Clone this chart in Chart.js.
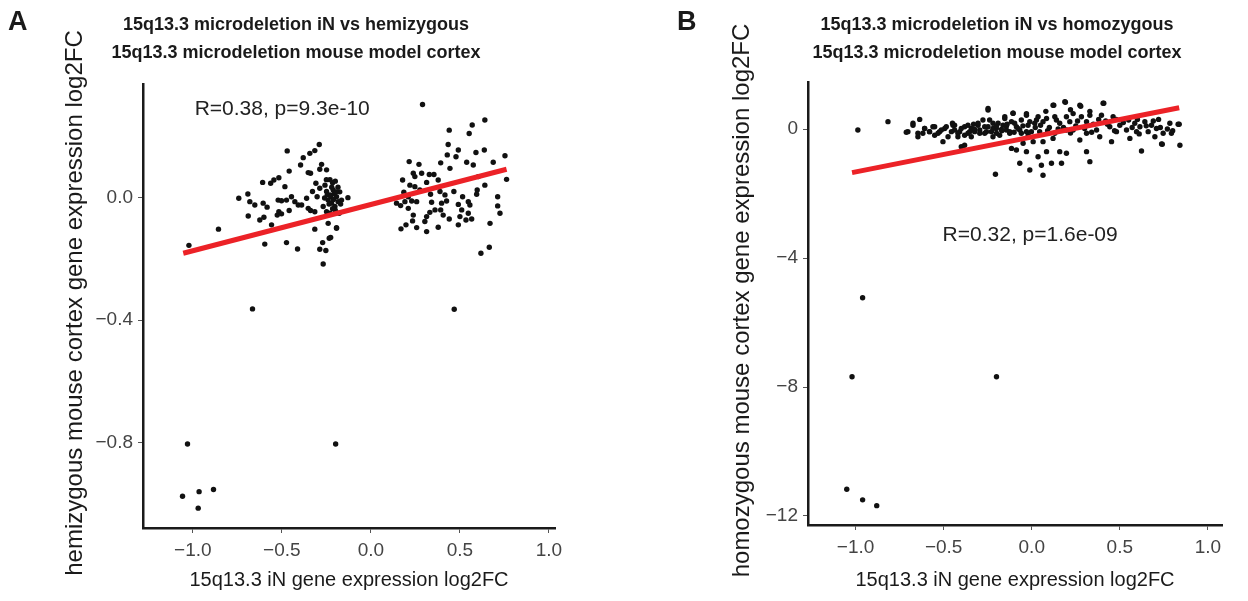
<!DOCTYPE html>
<html>
<head>
<meta charset="utf-8">
<script src="https://cdn.jsdelivr.net/npm/chart.js@4/dist/chart.umd.min.js"></script>
<style>
  html, body { margin: 0; padding: 0; background: #fff; }
  #wrap { position: relative; width: 1248px; height: 601px; }
  .panel { position: absolute; top: 0; width: 624px; height: 601px; }
</style>
</head>
<body>
<div id="wrap">
  <div class="panel" style="left:0"><canvas id="chartA" width="624" height="601"></canvas></div>
  <div class="panel" style="left:624px"><canvas id="chartB" width="624" height="601"></canvas></div>
</div>
<script>
// shared x axis
const xTicks = [-1, -0.5, 0, 0.5, 1];
const xTickLabels = ["\u22121.0", "\u22120.5", "0.0", "0.5", "1.0"];

// panel A: iN vs hemizygous
const yTicksA = [-0.8, -0.4, 0];
const yTickLabelsA = ["\u22120.8", "\u22120.4", "0.0"];
const fitAX = [-1.054, 0.762];
const fitAY = [-0.181, 0.094];
const hemiPoints = [
  [-0.665,-0.363],[0.468,-0.364],[-1.03,-0.805],[-0.198,-0.805],[-1.058,-0.976],[-0.965,-0.961],[-0.884,-0.954],[-0.97,-1.015],
  [-1.022,-0.155],[-0.856,-0.102],[-0.742,-0.001],[-0.691,0.013],[-0.680,-0.012],[-0.652,-0.023],[-0.689,-0.059],[-0.624,-0.072],
  [-0.601,-0.063],[-0.605,-0.017],[-0.583,-0.030],[-0.558,-0.088],[-0.608,0.051],[-0.563,0.048],[-0.545,0.059],[-0.517,0.066],
  [-0.483,0.037],[-0.470,0.154],[-0.459,0.088],[-0.521,-0.007],[-0.502,-0.009],[-0.474,-0.007],[-0.517,-0.045],[-0.526,-0.056],
  [-0.502,-0.052],[-0.459,-0.041],[-0.446,0.004],[-0.427,-0.012],[-0.408,-0.023],[-0.389,-0.023],[-0.361,-0.001],[-0.352,-0.034],
  [-0.339,-0.041],[-0.328,0.021],[-0.315,-0.045],[-0.309,0.048],[-0.395,0.108],[-0.380,0.132],[-0.343,0.146],[-0.315,0.155],
  [-0.290,0.175],[-0.352,0.083],[-0.339,0.081],[-0.277,0.110],[-0.287,0.094],[-0.249,0.092],[-0.302,0.004],[-0.287,0.032],
  [-0.258,0.042],[-0.249,0.021],[-0.240,-0.007],[-0.230,0.010],[-0.221,-0.017],[-0.212,0.026],[-0.202,-0.028],[-0.193,0.004],
  [-0.184,-0.012],[-0.268,-0.028],[-0.249,-0.045],[-0.230,-0.050],[-0.240,-0.083],[-0.315,-0.102],[-0.193,-0.099],[-0.271,-0.146],
  [-0.234,-0.132],[-0.287,-0.168],[-0.253,-0.172],[-0.268,-0.216],[-0.412,-0.167],[-0.474,-0.146],[-0.596,-0.151],
  [-0.129,0.001],[-0.165,-0.007],[-0.178,-0.050],[-0.193,-0.097],[-0.226,-0.129],
  [-0.22,0.035],[-0.205,0.015],[-0.175,0.02],[-0.26,0.0],[-0.2,-0.04],[-0.215,0.05],[-0.17,-0.02],
  [-0.245,0.01],[-0.235,-0.02],[-0.225,0.005],[-0.21,-0.005],[-0.195,0.02],[-0.185,0.035],[-0.2,0.055],[-0.23,0.06],
  [-0.25,0.06],[-0.215,-0.035],
  [0.290,0.306],[0.640,0.255],[0.569,0.239],[0.552,0.211],[0.440,0.222],[0.434,0.175],[0.491,0.157],[0.478,0.135],
  [0.429,0.141],[0.590,0.149],[0.637,0.157],[0.753,0.138],[0.687,0.117],[0.762,0.061],[0.538,0.117],[0.575,0.108],
  [0.444,0.097],[0.392,0.115],[0.215,0.119],[0.270,0.110],[0.238,0.081],[0.285,0.081],[0.247,0.070],[0.328,0.077],
  [0.354,0.077],[0.378,0.059],[0.178,0.059],[0.313,0.051],[0.219,0.042],[0.247,0.037],[0.275,0.026],[0.185,0.019],
  [0.210,0.004],[0.144,-0.017],[0.167,-0.025],[0.191,-0.012],[0.229,-0.010],[0.210,-0.034],[0.257,-0.012],[0.335,0.012],
  [0.388,0.021],[0.416,0.010],[0.466,0.021],[0.425,-0.010],[0.341,-0.014],[0.397,-0.017],[0.515,0.004],[0.547,-0.012],
  [0.491,-0.021],[0.556,-0.023],[0.597,0.026],[0.594,0.012],[0.640,0.042],[0.603,0.070],[0.712,0.004],[0.712,-0.026],
  [0.725,-0.050],[0.238,-0.056],[0.331,-0.047],[0.313,-0.061],[0.360,-0.039],[0.392,-0.039],[0.406,-0.056],[0.510,-0.039],
  [0.547,-0.050],[0.500,-0.061],[0.534,-0.072],[0.566,-0.069],[0.440,-0.069],[0.303,-0.077],[0.234,-0.075],[0.197,-0.088],
  [0.169,-0.101],[0.257,-0.097],[0.313,-0.110],[0.378,-0.096],[0.491,-0.088],[0.669,-0.083],[0.665,-0.161],[0.618,-0.181]
];

// panel B: iN vs homozygous
const yTicksB = [-12, -8, -4, 0];
const yTickLabelsB = ["\u221212", "\u22128", "\u22124", "0"];
const fitBX = [-1.02, 0.837];
const fitBY = [-1.35, 0.66];
const homoPoints = [
  [-0.96,-5.23],[-1.02,-7.68],[-0.20,-7.68],[-1.05,-11.17],[-0.96,-11.5],[-0.88,-11.68],
  [-0.987,-0.03],[-0.816,0.23],[-0.703,-0.08],[-0.636,0.30],[-0.646,-0.24],[-0.608,0.02],[-0.58,-0.08],[-0.551,0.07],
  [-0.523,-0.08],[-0.494,0.02],[-0.475,-0.24],[-0.447,0.12],[-0.438,-0.03],[-0.409,-0.08],[-0.381,0.07],[-0.362,-0.13],
  [-0.343,0.02],[-0.324,-0.08],[-0.305,0.12],[-0.295,-0.03],[-0.277,0.28],[-0.267,-0.13],[-0.248,0.59],[-0.248,0.07],
  [-0.229,-0.08],[-0.220,0.18],[-0.201,0.02],[-0.182,-0.19],[-0.163,0.12],[-0.153,0.38],[-0.144,-0.03],[-0.125,-0.13],
  [-0.115,0.23],[-0.106,0.49],[-0.087,0.07],[-0.068,-0.03],[-0.059,0.28],[-0.115,-0.60],[-0.087,-0.65],[-0.068,-1.06],
  [-0.206,-1.40],[-0.504,-0.39],[-0.40,-0.55],[-0.381,-0.50],[-0.674,0.18],[-0.419,-0.24],[-0.618,-0.13],[-0.551,-0.19],
  [-0.343,-0.24],[-0.22,-0.24],
  [-0.712,-0.10],[-0.674,0.12],[-0.646,-0.13],[-0.608,0.02],[-0.58,-0.08],[-0.561,0.07],[-0.532,-0.13],[-0.513,-0.03],
  [-0.485,0.07],[-0.456,-0.08],[-0.438,0.12],[-0.419,-0.13],[-0.40,0.02],[-0.381,-0.19],[-0.362,0.12],[-0.352,-0.08],
  [-0.324,-0.01],[-0.305,0.18],[-0.295,-0.13],[-0.267,0.07],[-0.257,-0.08],[-0.248,0.64],[-0.239,0.28],[-0.22,0.02],
  [-0.20,-0.13],[-0.191,0.18],[-0.172,-0.01],[-0.153,0.33],[-0.144,0.09],[-0.125,-0.08],[-0.106,0.49],[-0.097,0.18],
  [-0.078,0.02],[-0.059,-0.13],[-0.03,0.43],[-0.021,0.12],[-0.002,-0.08],[0.027,0.28],
  [-0.03,0.48],[-0.011,0.23],[0.017,0.18],[0.036,0.38],[0.064,0.23],[0.084,0.33],[0.121,0.74],[0.131,0.38],
  [0.159,0.18],[0.188,0.85],[0.197,0.38],[0.216,0.23],[0.235,0.48],[0.273,0.74],[0.282,0.38],[0.311,0.23],
  [0.330,0.43],[0.405,0.80],[0.396,0.43],[0.462,0.38],[0.443,0.07],[0.50,0.12],[0.538,-0.03],[0.585,0.18],
  [0.614,0.07],[0.642,0.23],[0.661,-0.08],[0.708,0.02],[0.746,-0.13],[0.784,0.18],[0.793,-0.13],[0.831,0.15],
  [0.841,-0.50],[0.737,-0.46],[0.623,-0.68],[0.557,-0.29],[0.453,-0.39],[0.386,-0.24],[0.311,-0.13],[0.273,-0.34],
  [0.311,-0.70],[0.330,-1.01],[0.197,-0.75],[0.159,-0.70],[0.169,-1.06],[0.112,-1.06],[0.055,-1.12],[-0.011,-1.27],
  [0.064,-1.43],[0.036,-0.86],[0.084,-0.70],[-0.030,-0.70],[-0.049,-0.44],[0.008,-0.39],[0.064,-0.39],[0.121,-0.29],
  [0.131,-0.13],[0.045,-0.08],[-0.030,-0.08],[0.197,-0.03],[0.235,-0.03],[0.368,-0.03],[0.481,-0.08],[0.595,-0.08],
  [0.699,-0.24],[0.125,0.74],[0.191,0.83],[0.278,0.71],[0.409,0.80],[0.741,-0.47],[0.837,0.15],
  [-0.20,0.10],[-0.17,-0.05],[-0.14,0.15],[-0.10,-0.10],[-0.05,0.10],[-0.02,-0.20],[0.02,0.05],[0.10,0.05],
  [0.15,0.00],[0.25,0.10],[0.35,0.15],[0.42,0.25],[0.55,0.28],[0.68,0.12],[0.72,0.30],[-0.33,0.15],[-0.45,0.18],
  [0.05,0.12],[0.09,-0.05],[0.14,0.28],[0.18,0.05],[0.22,-0.12],[0.26,0.25],[0.30,0.02],[0.34,-0.10],
  [0.38,0.30],[0.43,0.15],[0.47,-0.05],[0.52,0.20],[0.57,0.05],[0.61,-0.15],[0.65,0.10],[0.69,0.25],
  [0.73,0.05],[0.77,0.00],[0.80,-0.05],[0.60,0.30],[0.48,0.30],[0.33,0.55],[0.22,0.60],[0.08,0.55]
];

const FONT = '"Liberation Sans", Arial, Helvetica, sans-serif';
Chart.defaults.font.family = FONT;

// letters, titles, y titles and the R/p note
const panelText = {
  id: "panelText",
  afterDraw(chart, args, o) {
    const ctx = chart.ctx;
    const area = chart.chartArea;
    ctx.save();
    ctx.fillStyle = "#1a1a1a";
    ctx.textBaseline = "alphabetic";
    ctx.textAlign = "left";
    ctx.font = "bold 27px " + FONT;
    ctx.fillText(o.letter, o.letterX, 30);

    ctx.font = "bold 18px " + FONT;
    ctx.textAlign = "center";
    o.title.forEach((t, i) => ctx.fillText(t, o.titleX, 30 + i * 28));

    ctx.font = "21px " + FONT;
    ctx.textAlign = "left";
    ctx.textBaseline = "middle";
    ctx.fillStyle = "#222";
    ctx.fillText(o.stat, chart.scales.x.getPixelForValue(o.statAt[0]), chart.scales.y.getPixelForValue(o.statAt[1]));

    ctx.translate(o.yTitleX, (area.top + area.bottom) / 2 - 3);
    ctx.rotate(-Math.PI / 2);
    ctx.textAlign = "center";
    ctx.font = "24px " + FONT;
    ctx.fillStyle = "#1a1a1a";
    ctx.fillText(o.yTitle, 0, 0);
    ctx.restore();
  }
};

function makePanel(id, p) {
  const pts = p.points.map(([x, y]) => ({ x, y }));
  const fit = p.fitX.map((x, i) => ({ x, y: p.fitY[i] }));
  return new Chart(document.getElementById(id), {
    type: "scatter",
    data: {
      datasets: [
        {
          type: "line",
          data: fit,
          borderColor: "#ec2227",
          borderWidth: 5,
          pointRadius: 0,
          order: 0
        },
        {
          data: pts,
          backgroundColor: "#111",
          borderWidth: 0,
          pointRadius: 2.7,
          order: 1
        }
      ]
    },
    plugins: [panelText],
    options: {
      responsive: false,
      animation: false,
      events: [],
      layout: { padding: p.padding },
      plugins: {
        legend: { display: false },
        tooltip: { enabled: false },
        panelText: p.text
      },
      scales: {
        x: {
          type: "linear",
          min: p.xMin,
          max: p.xMax,
          afterBuildTicks: (s) => { s.ticks = xTicks.map((v) => ({ value: v })); },
          afterFit: (s) => { s.height = p.xAxisHeight; },
          ticks: {
            callback: (v, i) => xTickLabels[i],
            autoSkip: false,
            maxRotation: 0,
            color: "#444",
            font: { size: 19 },
            padding: 6
          },
          grid: { drawOnChartArea: false, drawTicks: true, tickLength: 5, color: "#555", lineWidth: 1 },
          border: { display: true, color: "#1a1a1a", width: 2.5 },
          title: {
            display: true,
            text: "15q13.3 iN gene expression log2FC",
            color: "#1a1a1a",
            font: { size: 20 },
            padding: { top: 0, bottom: 0 }
          }
        },
        y: {
          type: "linear",
          min: p.yMin,
          max: p.yMax,
          afterBuildTicks: (s) => { s.ticks = p.yTicks.map((v) => ({ value: v })); },
          afterFit: (s) => { s.width = p.yAxisWidth; },
          ticks: {
            callback: (v, i) => p.yTickLabels[i],
            autoSkip: false,
            color: "#444",
            font: { size: 19 },
            padding: 5
          },
          grid: { drawOnChartArea: false, drawTicks: true, tickLength: 5, color: "#555", lineWidth: 1 },
          border: { display: true, color: "#1a1a1a", width: 2.5 }
        }
      }
    }
  });
}

makePanel("chartA", {
  points: hemiPoints, fitX: fitAX, fitY: fitAY,
  xMin: -1.28, xMax: 1.034, yMin: -1.08, yMax: 0.373,
  yTicks: yTicksA, yTickLabels: yTickLabelsA,
  padding: { left: 0, right: 69, top: 84, bottom: 9 },
  yAxisWidth: 143, xAxisHeight: 64,
  text: {
    letter: "A", letterX: 8, titleX: 296,
    title: ["15q13.3 microdeletion iN vs hemizygous", "15q13.3 microdeletion mouse model cortex"],
    stat: "R=0.38, p=9.3e-10", statAt: [-0.99, 0.291],
    yTitle: "hemizygous mouse cortex gene expression log2FC", yTitleX: 75
  }
});

makePanel("chartB", {
  points: homoPoints, fitX: fitBX, fitY: fitBY,
  xMin: -1.27, xMax: 1.08, yMin: -12.28, yMax: 1.46,
  yTicks: yTicksB, yTickLabels: yTickLabelsB,
  padding: { left: 0, right: 26, top: 82, bottom: 9 },
  yAxisWidth: 184, xAxisHeight: 67,
  text: {
    letter: "B", letterX: 53, titleX: 373,
    title: ["15q13.3 microdeletion iN vs homozygous", "15q13.3 microdeletion mouse model cortex"],
    stat: "R=0.32, p=1.6e-09", statAt: [-0.506, -3.29],
    yTitle: "homozygous mouse cortex gene expression log2FC", yTitleX: 118
  }
});
</script>
</body>
</html>
